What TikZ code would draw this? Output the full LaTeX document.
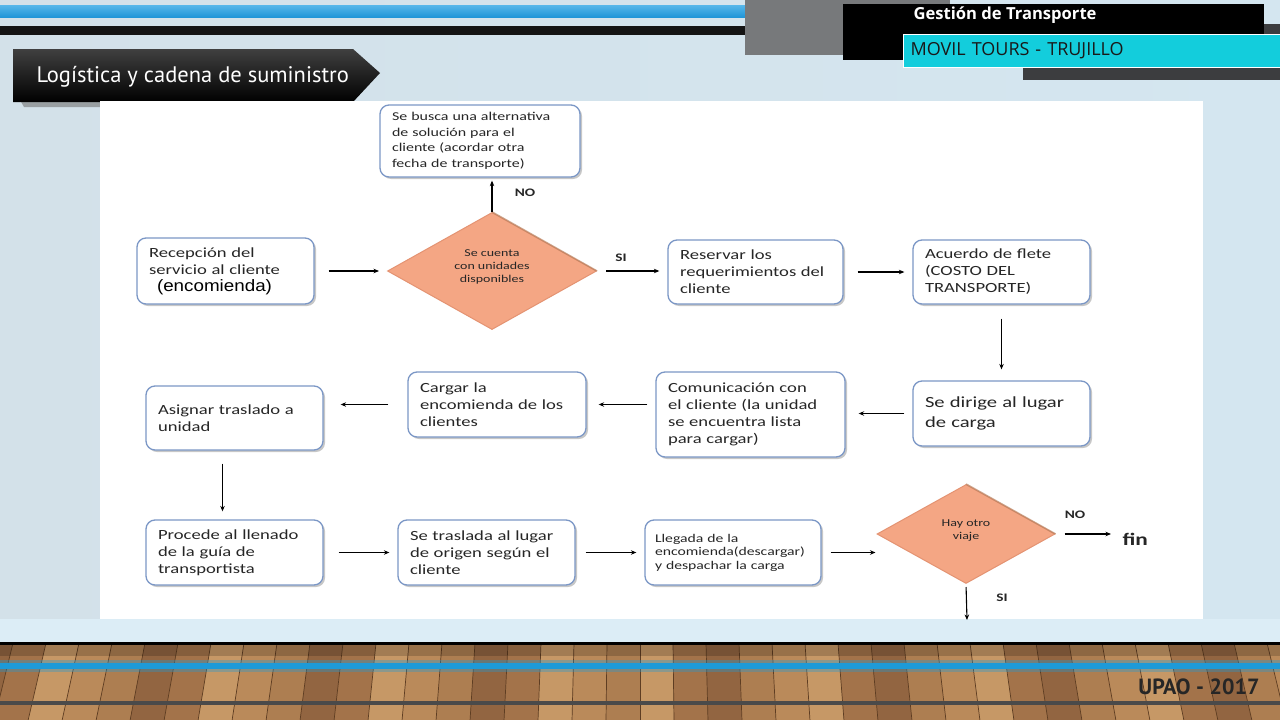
\documentclass[tikz,border=0pt]{standalone}
\usepackage{fontspec}
\setmainfont{Carlito}
\newfontfamily\flfont[FakeStretch=1.33]{Carlito}
\newfontfamily\hdfont{PT Sans}
\newfontfamily\tpfont{Open Sans}
\newfontfamily\encfont[FakeStretch=1.14]{Liberation Sans}
\usetikzlibrary{arrows.meta,shapes.geometric,shadows,calc}
\definecolor{boxc}{HTML}{7B97C6}
\definecolor{txtc}{HTML}{262626}
\definecolor{diaf}{HTML}{F4A684}
\definecolor{diac}{HTML}{E49372}
\definecolor{diadk}{HTML}{B9805E}
\definecolor{bgL}{HTML}{D3E1E9}
\definecolor{bgM}{HTML}{EEF4F7}
\definecolor{bgR}{HTML}{D4E6F0}
\definecolor{bandc}{HTML}{DCEDF6}
\definecolor{bluebar}{HTML}{2196D8}
\definecolor{bluelt}{HTML}{56B7EA}
\definecolor{grayblk}{HTML}{77797B}
\definecolor{darkstrip}{HTML}{3C3D3F}
\definecolor{cyanc}{HTML}{13CDDC}
\definecolor{wood0}{HTML}{A3734A}
\definecolor{wood1}{HTML}{BA8A5A}
\definecolor{wood2}{HTML}{926541}
\definecolor{wood3}{HTML}{C69866}
\definecolor{wood4}{HTML}{AD7E51}
\definecolor{woodline}{HTML}{5E3D22}
\definecolor{floorblue}{HTML}{1E9AD8}
\definecolor{floorgray}{HTML}{4A4A4A}
\tikzset{
  stepbox/.style={draw=boxc, line width=1.3pt, rounded corners=9pt, fill=white,
    align=left, inner xsep=12pt, inner ysep=2pt, text=txtc,
    font=\flfont\fontsize{14}{17}\selectfont,
    drop shadow={shadow xshift=2pt, shadow yshift=-2pt, fill=black, opacity=0.22}},
  decision/.style={diamond, draw=diac, fill=diaf, line width=1pt, inner sep=0pt,
    align=center, text=txtc, font=\flfont\fontsize{10.5}{13}\selectfont},
  flow/.style={-{Stealth[length=5.5pt,width=4.5pt]}, line width=1.1pt, black},
  lab/.style={text=txtc, font=\flfont\bfseries\fontsize{11.5}{12}\selectfont},
}
\begin{document}
\begin{tikzpicture}[x=1pt,y=-1pt]
\useasboundingbox (0,0) rectangle (1280,720);
% background
\shade[left color=bgL, middle color=bgM, right color=bgR] (0,0) rectangle (1280,643);
\fill[bandc] (0,619) rectangle (1280,643);
% wood floor
\fill[wood0] (0,643) rectangle (1280,720);
\begin{scope}
\clip (0,643) rectangle (1280,720);
\foreach \i in {-21,...,20}{
  \pgfmathsetmacro\xa{640+\i*33}
  \pgfmathsetmacro\xb{640+(\i+1)*33}
  \pgfmathsetmacro\xc{640+(\i+1)*33*1.03}
  \pgfmathsetmacro\xd{640+\i*33*1.03}
  \pgfmathtruncatemacro\k{mod(abs(\i*7+3),5)}
  \fill[wood\k] (\xa,643) -- (\xb,643) -- (\xc,720) -- (\xd,720) -- cycle;
  \draw[woodline, line width=0.7pt] (\xa,643) -- (\xd,720);
}
\end{scope}
\fill[black, opacity=0.18] (0,645) rectangle (1280,656);
\fill[black] (0,642) rectangle (1280,645);
\fill[floorblue, opacity=0.35] (0,660) rectangle (1280,672);
\fill[floorblue] (0,663) rectangle (1280,669);
\fill[floorgray] (0,701) rectangle (1280,705);
\node[anchor=east, text=txtc, font=\hdfont\bfseries\fontsize{22}{22}\selectfont] (upao) at (1263,687) {UPAO - 2017};
% header
\shade[top color=bluelt, bottom color=bluebar] (0,5) rectangle (745,17);
\fill[black!92] (0,26) rectangle (745,35);
\fill[grayblk] (745,0) rectangle (950,55);
\fill[black] (843,4) rectangle (1264,60);
\fill[darkstrip] (1264,24) rectangle (1280,36);
\fill[darkstrip] (1023,66) rectangle (1280,80);
\node[anchor=north west, fill=cyanc, draw=white, line width=1.2pt, minimum height=33pt,
      text width=363pt, inner xsep=7pt, align=left, text=black!90,
      font=\tpfont\fontsize{18}{18}\selectfont] (movil) at (903,34) {MOVIL TOURS - TRUJILLO};
\node[anchor=west, text=white, font=\tpfont\bfseries\fontsize{16.6}{16.6}\selectfont] (gest) at (910,15) {Gestión de Transporte};
% title banner
\fill[black!55, opacity=0.6] (20,100) -- (112,100) -- (104,107) -- (24,107) -- cycle;
\shade[top color=black!75, bottom color=black] (13,49) -- (353,49) -- (380,73) -- (353,102) -- (13,102) -- cycle;
\node[anchor=west, text=white, font=\hdfont\fontsize{22.5}{22.5}\selectfont] (title) at (33,77) {Logística y cadena de suministro};
% panel
\fill[white] (100,101) rectangle (1203,619);
% flowchart nodes
\node[stepbox, text width=176pt, minimum height=72pt, font=\flfont\fontsize{12}{15.5}\selectfont] (alt) at (480,141)
  {Se busca una alternativa\\de solución para el\\cliente (acordar otra\\fecha de transporte)};
\node[stepbox, text width=153pt, minimum height=66pt] (recep) at (225.5,271)
  {Recepción del\\servicio al cliente\\\hspace*{8pt}{\encfont\fontsize{16.5}{16.5}\selectfont\color{black}(encomienda)}};
\node[decision, minimum width=209pt, minimum height=111pt] (d1) at (492,271)
  {Se cuenta\\con unidades\\disponibles\\[-4pt]};
\node[stepbox, text width=151pt, minimum height=64pt] (res) at (755.5,272)
  {Reservar los\\requerimientos del\\cliente};
\node[stepbox, text width=153pt, minimum height=64pt] (acu) at (1001.5,272)
  {Acuerdo de flete\\(COSTO DEL\\TRANSPORTE)};
\node[stepbox, text width=153pt, minimum height=65pt, font=\flfont\fontsize{15.5}{20}\selectfont] (dir) at (1001.5,413.5)
  {Se dirige al lugar\\de carga};
\node[stepbox, text width=165pt, minimum height=85pt] (com) at (750.5,414.5)
  {Comunicación con\\el cliente (la unidad\\se encuentra lista\\para cargar)};
\node[stepbox, text width=154pt, minimum height=65pt] (car) at (497,404.5)
  {Cargar la\\encomienda de los\\clientes};
\node[stepbox, text width=153pt, minimum height=64pt] (asi) at (234.5,418)
  {Asignar traslado a\\unidad};
\node[stepbox, text width=153pt, minimum height=65pt] (pro) at (234.5,552.5)
  {Procede al llenado\\de la guía de\\transportista};
\node[stepbox, text width=153pt, minimum height=65pt] (tras) at (486.5,552.5)
  {Se traslada al lugar\\de origen según el\\cliente};
\node[stepbox, text width=156pt, inner xsep=10pt, minimum height=65pt, font=\flfont\fontsize{11.8}{13.5}\selectfont] (lle) at (733,552.5)
  {Llegada de la\\encomienda(descargar)\\y despachar la carga};
\node[decision, minimum width=178pt, minimum height=99pt] (d2) at (966,534)
  {Hay otro\\viaje\\[-4pt]};
\draw[diadk, line width=1.6pt, opacity=0.7] (d1.north) -- (d1.east);
\draw[diadk, line width=1.6pt, opacity=0.7] (d2.north) -- (d2.east);
\node[anchor=west, text=txtc, font=\flfont\bfseries\fontsize{17.5}{17.5}\selectfont] (fin) at (1119,539) {fin};
\coordinate (cut) at (967,620);
% labels
\node[lab] (no1) at (525,193) {NO};
\node[lab] (si1) at (621,258) {SI};
\node[lab] (no2) at (1075,515) {NO};
\node[lab] (si2) at (1002,598) {SI};
% connectors
\draw[flow, shorten <=14pt, shorten >=8pt] (recep) -- (d1);
\draw[flow, shorten <=9pt, shorten >=8pt] (d1.east) -- (d1.east -| res.west);
\draw[flow, shorten <=14pt, shorten >=8pt] (res) -- (acu);
\draw[flow, shorten <=14pt, shorten >=11pt] (acu) -- (dir);
\draw[flow, shorten <=8pt, shorten >=13pt] (dir.west) -- (dir.west -| com.east);
\draw[flow, shorten <=8pt, shorten >=12pt] (car.east -| com.west) -- (car.east);
\draw[flow, shorten <=19pt, shorten >=17pt] (car.west) -- (car.west -| asi.east);
\draw[flow, shorten <=13pt, shorten >=8pt] ([xshift=-12pt]asi.south) -- ([xshift=-12pt]pro.north);
\draw[flow, shorten <=15pt, shorten >=8pt] (pro) -- (tras);
\draw[flow, shorten <=10pt, shorten >=8pt] (tras) -- (lle);
\draw[flow, shorten <=9pt, shorten >=1pt] (lle.east) -- (lle.east -| d2.west);
\draw[flow, shorten >=3pt] (d1.north) -- (d1.north |- alt.south);
\draw[flow, shorten <=9pt, shorten >=8pt] (d2.east) -- (d2.east -| fin.west);
\draw[flow, shorten <=3pt] (d2.south) -- (cut);
\end{tikzpicture}
\end{document}
